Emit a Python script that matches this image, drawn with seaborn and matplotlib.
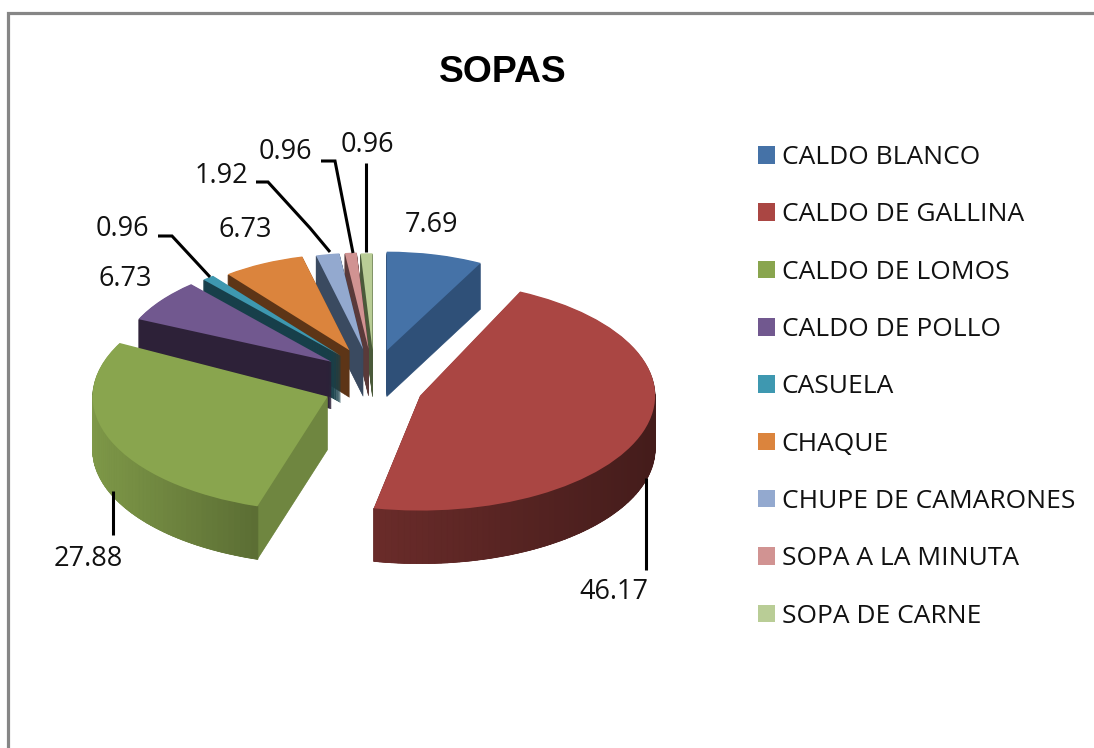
import numpy as np
import matplotlib
matplotlib.use('Agg')
import matplotlib.pyplot as plt
from matplotlib.colors import to_rgb
from matplotlib.lines import Line2D
import seaborn as sns

# datos del grafico
categorias = ['CALDO BLANCO', 'CALDO DE GALLINA', 'CALDO DE LOMOS', 'CALDO DE POLLO',
              'CASUELA', 'CHAQUE', 'CHUPE DE CAMARONES', 'SOPA A LA MINUTA', 'SOPA DE CARNE']
valores = [7.69, 46.17, 27.88, 6.73, 0.96, 6.73, 1.92, 0.96, 0.96]
colores = ['#4572A7', '#AA4643', '#89A54E', '#71588F', '#3E98B0',
           '#DB843D', '#93A9CF', '#D19392', '#B9CD96']
colores_lado = ['#2F5078', '#5A2423', '#6F8640', '#2D2138', '#173F4A',
                '#5D3517', '#3A4A60', '#5A3A3A', '#4A5A3A']

# estilo del pastel
W, H = 1094, 748
CX, CY = 371, 376
RX, RY = 235, 115
explosion = [0.21] * len(valores)
escala = [0.86, 1.0, 1.0, 0.9, 0.88, 0.84, 0.84, 0.84, 0.84]
orden = [7, 8, 6, 5, 4, 3, 2, 1, 0]  # delante = mayor
prof = [46, 53, 53, 47, 47, 47, 47, 47, 47]
ajuste_px = [(4, -2), (3, 11), (1, 10), (0, 0), (1, -2), (0, -4), (1, -3), (2, -3), (3, -2)]
ajuste_ang = [0, 2.5, -3.5, 0, 0, 0, 0, 0, 0]  # perspectiva
sombra_arco = {1: (0.62, 0.40), 2: (0.92, 0.66)}

sns.set_theme(style='white')
plt.rcParams['font.family'] = ['Open Sans', 'DejaVu Sans']

fig = plt.figure(figsize=(W / 100, H / 100), dpi=100, facecolor='white')
ax = fig.add_axes([0, 0, 1, 1])
paleta = sns.color_palette(colores)
paleta_lado = sns.color_palette(colores_lado)


def px(xs, ys):
    return (np.asarray(xs, float) - CX) / RX, (CY - np.asarray(ys, float)) / RY


def ajustar(w, i):
    # radio, posicion y giro de cada porcion
    w.set_radius(escala[i])
    w.set_center((w.center[0] + ajuste_px[i][0] / RX, w.center[1] - ajuste_px[i][1] / RY))
    w.set_theta1(w.theta1 + ajuste_ang[i])
    w.set_theta2(w.theta2 + ajuste_ang[i])


# capas laterales, de abajo hacia arriba
for d in range(max(prof), 0, -1):
    capa, _ = ax.pie(valores, explode=explosion, colors=paleta_lado, startangle=90,
                     counterclock=False, center=(0, -d / RY))
    for i, w in enumerate(capa):
        ajustar(w, i)
        w.set_edgecolor(paleta_lado[i])
        w.set_linewidth(0.4)
        w.set_zorder(orden[i] + (max(prof) - d) * 0.001)
        w.set_visible(d <= prof[i])

tapas, _ = ax.pie(valores, explode=explosion, colors=paleta, startangle=90,
                  counterclock=False, wedgeprops={'linewidth': 0})
for i, w in enumerate(tapas):
    ajustar(w, i)
    w.set_zorder(orden[i] + 0.5)

# degradado del borde frontal
for i, w in enumerate(tapas):
    if i not in sombra_arco:
        continue
    angulos = np.radians(np.arange(w.theta1, w.theta2 + 1.5, 1.5))
    angulos = angulos[np.sin(angulos) < 0.02]
    xa = w.center[0] + w.r * np.cos(angulos)
    ya = w.center[1] + w.r * np.sin(angulos)
    izq, der = sombra_arco[i]
    base = np.array(to_rgb(colores[i]))
    for k in range(len(angulos) - 1):
        f = (xa[k] - xa.min()) / (xa.max() - xa.min())
        c = base * (izq + (der - izq) * f)
        ax.fill([xa[k], xa[k + 1], xa[k + 1], xa[k]],
                [ya[k], ya[k + 1], ya[k + 1] - prof[i] / RY, ya[k] - prof[i] / RY],
                color=c, linewidth=0.6, zorder=orden[i] + 0.4)

ax.set_aspect('auto')
ax.set_xlim(-CX / RX, (W - CX) / RX)
ax.set_ylim((CY - H) / RY, CY / RY)
ax.axis('off')

# etiquetas con sus posiciones en pixeles
pos_etiquetas = [(432, 225), (614, 592), (88, 559), (125, 279), (122, 229),
                 (245, 230), (221, 176), (285, 152), (367, 145)]
for v, (x, y) in zip(valores, pos_etiquetas):
    xd, yd = px(x, y)
    ax.text(xd, yd, f'{v:.2f}', fontsize=19.5, color='#111111', ha='center', va='center', zorder=30)

guias = [
    ([158, 172, 210], [236, 236, 277]),
    ([256, 268, 310, 330], [182, 182, 228, 252]),
    ([321, 335, 353], [161, 161, 253]),
    ([366, 366], [163, 252]),
    ([113, 113], [491, 535]),
    ([646, 646], [478, 570]),
]
for xs, ys in guias:
    xd, yd = px(xs, ys)
    ax.plot(xd, yd, color='black', lw=2.2, zorder=29, solid_capstyle='butt', solid_joinstyle='miter')

fig.text(503 / W, 1 - 72 / H, 'SOPAS', fontsize=26.8, fontweight='bold', family='Liberation Sans',
         color='black', ha='center', va='center')

leg = ax.legend(tapas, categorias, loc='upper left', bbox_to_anchor=(758 / W, 1 - 145 / H),
                bbox_transform=fig.transFigure, frameon=False, fontsize=19,
                handlelength=0.65, handleheight=0.65, handletextpad=0.25,
                labelspacing=1.225, borderpad=0, borderaxespad=0)
for t in leg.get_texts():
    t.set_color('#111111')

# borde gris del grafico: solo arriba y a la izquierda
fig.add_artist(Line2D([7.5 / W, 7.5 / W, 1], [0, 1 - 12.5 / H, 1 - 12.5 / H], transform=fig.transFigure,
                      color='#868686', lw=2.3, solid_joinstyle='miter'))

fig.savefig('out.png', dpi=100, facecolor='white')
